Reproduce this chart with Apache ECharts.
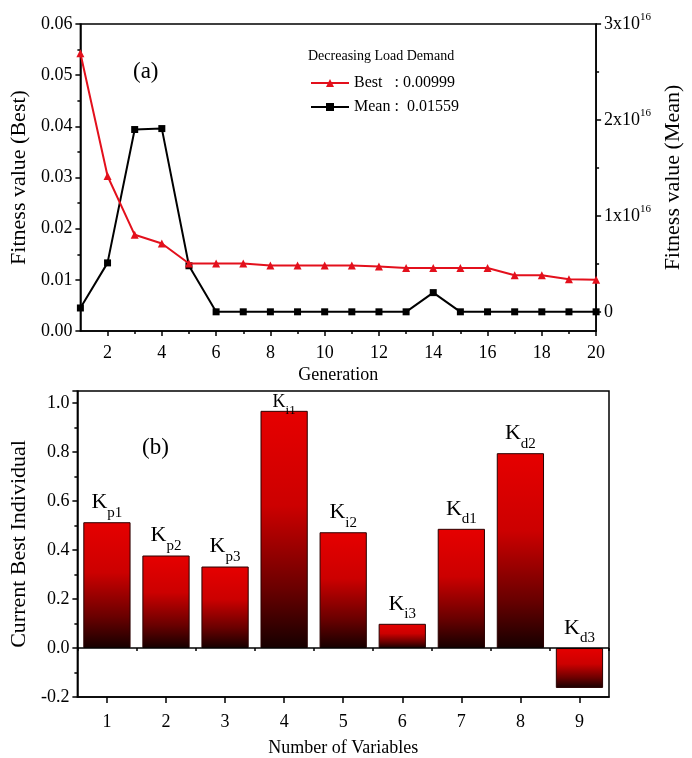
<!DOCTYPE html>
<html>
<head>
<meta charset="utf-8">
<script src="https://cdn.jsdelivr.net/npm/echarts@6/dist/echarts.min.js"></script>
<style>
html, body { margin: 0; padding: 0; background: #fff; }
#main { width: 692px; height: 758px; }
</style>
</head>
<body>
<div id="main"></div>
<script>
// (a) fitness value vs generation
const generations = [1, 2, 3, 4, 5, 6, 7, 8, 9, 10, 11, 12, 13, 14, 15, 16, 17, 18, 19, 20];
const bestValues = [0.0543, 0.0303, 0.0188, 0.0171, 0.0132, 0.0132, 0.0132, 0.0128, 0.0128, 0.0128,
  0.0128, 0.0126, 0.0123, 0.0123, 0.0123, 0.0123, 0.0109, 0.0109, 0.0101, 0.0100];
const meanValues = [0.04e16, 0.51e16, 1.9e16, 1.91e16, 0.48e16, 0, 0, 0, 0, 0,
  0, 0, 0, 0.2e16, 0, 0, 0, 0, 0, 0];
const genLabelTicks = [2, 4, 6, 8, 10, 12, 14, 16, 18, 20];
const genMinorTicks = [3, 5, 7, 9, 11, 13, 15, 17, 19];
const meanLabelTicks = [0, 1e16, 2e16, 3e16];
const meanMinorTicks = [0.5e16, 1.5e16, 2.5e16];
const bestName = 'Best   : 0.00999';
const meanName = 'Mean :  0.01559';

// (b) current best individual
const varCategories = ['1', '2', '3', '4', '5', '6', '7', '8', '9'];
const varSubs = ['p1', 'p2', 'p3', 'i1', 'i2', 'i3', 'd1', 'd2', 'd3'];
const individualValues = [0.514, 0.378, 0.333, 0.969, 0.473, 0.099, 0.487, 0.796, -0.163];

const serif = "'Liberation Serif', 'Times New Roman', serif";
const axisLine = { show: true, onZero: false, lineStyle: { color: '#000', width: 1.5 } };

// K + subscript label; size smaller for the tall bar that touches the frame
function kRich(big, small, pad) {
  return {
    k: { fontFamily: serif, fontSize: big, lineHeight: big, verticalAlign: 'top', color: '#000' },
    s: { fontFamily: serif, fontSize: small, lineHeight: small + pad, padding: [pad, 0, 0, 0], verticalAlign: 'bottom', color: '#000' }
  };
}

const barData = individualValues.map((v, i) => {
  if (i !== 3) return v;
  return { value: v, label: { distance: -6, rich: kRich(18, 13, 11) } };
});

const chart = echarts.init(document.getElementById('main'));

const option = {
  backgroundColor: '#fff',
  animation: false,
  textStyle: { fontFamily: serif, color: '#000' },
  title: {
    text: 'Decreasing Load Demand',
    left: 303, top: 44,
    textStyle: { fontFamily: serif, fontSize: 14, fontWeight: 'normal', color: '#000' }
  },
  legend: {
    data: [bestName, meanName],
    orient: 'vertical',
    left: 305, top: 70,
    itemWidth: 38, itemHeight: 10, itemGap: 8,
    textStyle: { fontFamily: serif, fontSize: 16, color: '#000' }
  },
  graphic: [
    { type: 'text', left: 133, top: 60, style: { text: '(a)', font: '23px ' + serif, fill: '#000' } },
    { type: 'text', left: 142, top: 436, style: { text: '(b)', font: '23px ' + serif, fill: '#000' } }
  ],
  grid: [
    { left: 74, right: 87, top: 24, height: 307, show: true, borderColor: '#000', borderWidth: 1.5 },
    { left: 74, right: 83, top: 391, height: 306, show: true, borderColor: '#000', borderWidth: 1.5 }
  ],
  xAxis: [
    {
      type: 'value', gridIndex: 0, min: 1, max: 20,
      name: 'Generation', nameLocation: 'middle', nameGap: 35,
      nameTextStyle: { fontFamily: serif, fontSize: 18, color: '#000' },
      axisLine: axisLine,
      axisTick: { show: true, length: 5, customValues: genLabelTicks, lineStyle: { color: '#000', width: 1.5 } },
      axisLabel: { customValues: genLabelTicks, margin: 13, fontFamily: serif, fontSize: 18, color: '#000' },
      splitLine: { show: false }
    },
    {
      type: 'value', gridIndex: 0, min: 1, max: 20, position: 'bottom',
      axisLine: { show: false },
      axisTick: { show: true, length: 3, customValues: genMinorTicks, lineStyle: { color: '#000', width: 1.5 } },
      axisLabel: { show: false },
      splitLine: { show: false }
    },
    {
      type: 'category', gridIndex: 1, data: varCategories,
      name: 'Number of Variables', nameLocation: 'middle', nameGap: 42,
      nameTextStyle: { fontFamily: serif, fontSize: 18, color: '#000' },
      axisLine: axisLine,
      axisTick: { show: true, alignWithLabel: true, length: 6, lineStyle: { color: '#000', width: 1.5 } },
      axisLabel: { margin: 16, fontFamily: serif, fontSize: 18, color: '#000' }
    },
    {
      type: 'category', gridIndex: 1, data: varCategories, position: 'bottom',
      axisLine: { show: false },
      axisTick: { show: true, length: 3, lineStyle: { color: '#000', width: 1.5 } },
      axisLabel: { show: false }
    }
  ],
  yAxis: [
    {
      type: 'value', gridIndex: 0, min: 0, max: 0.06, interval: 0.01,
      name: 'Fitness value (Best)', nameLocation: 'middle', nameGap: 45,
      nameTextStyle: { fontFamily: serif, fontSize: 22, color: '#000' },
      axisLine: axisLine,
      axisTick: { show: true, length: 5, lineStyle: { color: '#000', width: 1.5 } },
      minorTick: { show: true, splitNumber: 2, length: 3, lineStyle: { color: '#000', width: 1.5 } },
      axisLabel: { margin: 8, fontFamily: serif, fontSize: 18, color: '#000', formatter: v => v.toFixed(2) },
      splitLine: { show: false }
    },
    {
      type: 'value', gridIndex: 0, min: -0.2e16, max: 3e16, position: 'right',
      name: 'Fitness value (Mean)', nameLocation: 'middle', nameGap: 60, nameRotate: 90,
      nameTextStyle: { fontFamily: serif, fontSize: 22, color: '#000' },
      axisLine: axisLine,
      axisTick: { show: true, length: 5, customValues: meanLabelTicks, lineStyle: { color: '#000', width: 1.5 } },
      axisLabel: {
        customValues: meanLabelTicks, margin: 8, fontFamily: serif, fontSize: 18, color: '#000',
        formatter: v => v === 0 ? '0' : Math.round(v / 1e16) + 'x10{sup|16}',
        // superscript: token box padded below so its text sits high in the line
        rich: { sup: { fontFamily: serif, fontSize: 11, lineHeight: 24, padding: [0, 0, 13, 0], verticalAlign: 'top', color: '#000' } }
      },
      splitLine: { show: false }
    },
    {
      type: 'value', gridIndex: 0, min: -0.2e16, max: 3e16, position: 'right',
      axisLine: { show: false },
      axisTick: { show: true, length: 3, customValues: meanMinorTicks, lineStyle: { color: '#000', width: 1.5 } },
      axisLabel: { show: false },
      splitLine: { show: false }
    },
    {
      type: 'value', gridIndex: 1, min: -0.2, max: 1.05, interval: 0.2,
      name: 'Current Best Individual', nameLocation: 'middle', nameGap: 41,
      nameTextStyle: { fontFamily: serif, fontSize: 22, color: '#000' },
      axisLine: axisLine,
      axisTick: { show: true, length: 5, lineStyle: { color: '#000', width: 1.5 } },
      minorTick: { show: true, splitNumber: 2, length: 3, lineStyle: { color: '#000', width: 1.5 } },
      axisLabel: { margin: 8, showMaxLabel: false, fontFamily: serif, fontSize: 18, color: '#000', formatter: v => v.toFixed(1) },
      splitLine: { show: false }
    }
  ],
  series: [
    {
      name: bestName, type: 'line', xAxisIndex: 0, yAxisIndex: 0,
      data: generations.map((g, i) => [g, bestValues[i]]),
      symbol: 'triangle', symbolSize: 8,
      lineStyle: { color: '#e3101c', width: 2 },
      itemStyle: { color: '#e3101c' },
      z: 3
    },
    {
      name: meanName, type: 'line', xAxisIndex: 0, yAxisIndex: 1,
      data: generations.map((g, i) => [g, meanValues[i]]),
      symbol: 'rect', symbolSize: 7,
      lineStyle: { color: '#000', width: 2 },
      itemStyle: { color: '#000' },
      z: 2
    },
    {
      type: 'bar', xAxisIndex: 2, yAxisIndex: 3,
      data: barData,
      barCategoryGap: '20%',
      itemStyle: {
        color: new echarts.graphic.LinearGradient(0, 0, 0, 1, [
          { offset: 0, color: '#e60000' },
          { offset: 0.4, color: '#cc0000' },
          { offset: 0.75, color: '#6a0000' },
          { offset: 1, color: '#160000' }
        ]),
        borderColor: '#2a0000', borderWidth: 1
      },
      label: {
        show: true, position: 'top', distance: 2,
        formatter: p => '{k|K}{s|' + varSubs[p.dataIndex] + '}',
        rich: kRich(22, 15, 14)
      },
      markLine: {
        silent: true, symbol: 'none', label: { show: false },
        lineStyle: { color: '#000', width: 1.5, type: 'solid' },
        data: [{ yAxis: 0 }]
      }
    }
  ]
};

chart.setOption(option);
</script>
</body>
</html>
